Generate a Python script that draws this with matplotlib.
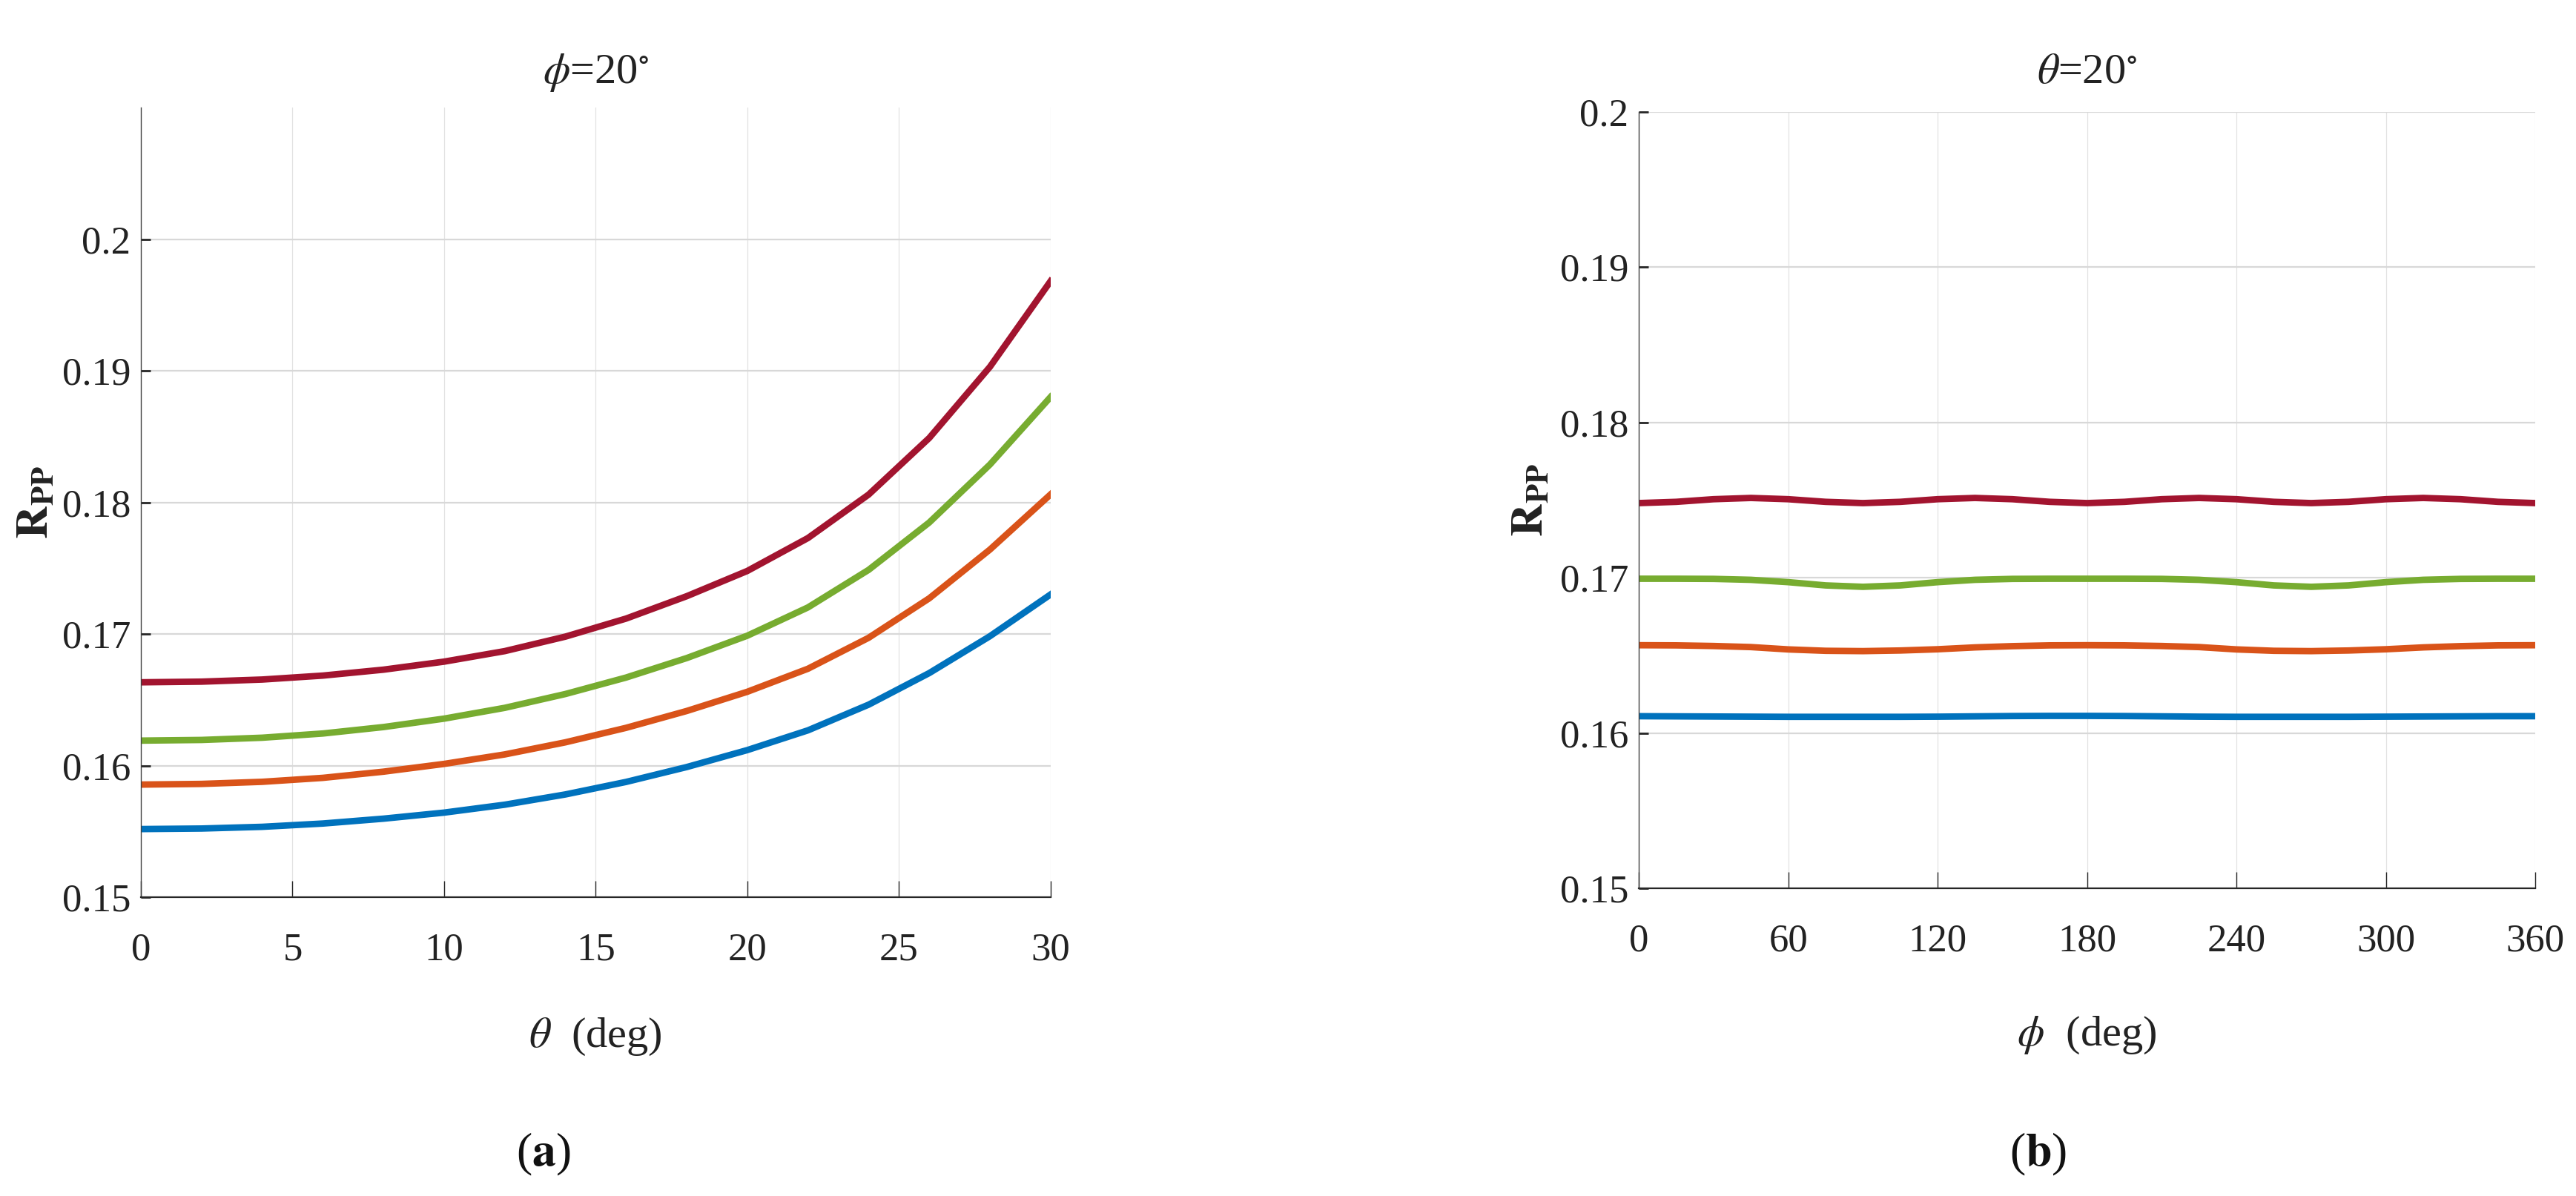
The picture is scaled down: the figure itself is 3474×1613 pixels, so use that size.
import matplotlib
matplotlib.use("Agg")
import matplotlib.pyplot as plt

plt.rcParams["font.family"] = ["Liberation Serif", "DejaVu Serif"]
plt.rcParams["mathtext.fontset"] = "stix"

# panel (a): R_PP against incidence angle theta, phi = 20 deg
theta_deg = [0, 2, 4, 6, 8, 10, 12, 14, 16, 18, 20, 22, 24, 26, 28, 30]
rpp_theta_blue = [0.15518, 0.15522, 0.15535, 0.15560, 0.15597, 0.15643, 0.15703, 0.15781,
                  0.15876, 0.15989, 0.16118, 0.16268, 0.16463, 0.16703, 0.16983, 0.17300]
rpp_theta_orange = [0.15856, 0.15861, 0.15877, 0.15907, 0.15954, 0.16013, 0.16085, 0.16177,
                    0.16287, 0.16415, 0.16561, 0.16736, 0.16971, 0.17271, 0.17641, 0.18060]
rpp_theta_green = [0.16190, 0.16195, 0.16212, 0.16244, 0.16293, 0.16357, 0.16439, 0.16544,
                   0.16669, 0.16817, 0.16987, 0.17202, 0.17487, 0.17847, 0.18287, 0.18800]
rpp_theta_red = [0.16633, 0.16638, 0.16654, 0.16684, 0.16729, 0.16790, 0.16870, 0.16980,
                 0.17117, 0.17287, 0.17479, 0.17729, 0.18059, 0.18489, 0.19029, 0.19680]

# panel (b): R_PP against azimuth phi, theta = 20 deg
phi_deg = [0, 15, 30, 45, 60, 75, 90, 105, 120, 135, 150, 165, 180,
           195, 210, 225, 240, 255, 270, 285, 300, 315, 330, 345, 360]
rpp_phi_blue = [0.16110, 0.16109, 0.16108, 0.16107, 0.16106, 0.16106, 0.16106,
                0.16106, 0.16107, 0.16109, 0.16111, 0.16112, 0.16112, 0.16111,
                0.16109, 0.16107, 0.16106, 0.16106, 0.16106, 0.16106, 0.16107,
                0.16108, 0.16109, 0.16110, 0.16110]
rpp_phi_orange = [0.16567, 0.16566, 0.16562, 0.16555, 0.16540, 0.16531, 0.16529,
                  0.16533, 0.16541, 0.16553, 0.16561, 0.16566, 0.16567, 0.16566,
                  0.16562, 0.16555, 0.16540, 0.16531, 0.16529, 0.16533, 0.16541,
                  0.16553, 0.16561, 0.16566, 0.16567]
rpp_phi_green = [0.16995, 0.16995, 0.16994, 0.16988, 0.16973, 0.16952, 0.16943,
                 0.16952, 0.16973, 0.16988, 0.16994, 0.16995, 0.16995, 0.16995,
                 0.16994, 0.16988, 0.16973, 0.16952, 0.16943, 0.16952, 0.16973,
                 0.16988, 0.16994, 0.16995, 0.16995]
rpp_phi_red = [0.17482, 0.17490, 0.17507, 0.17515, 0.17507, 0.17490, 0.17482,
               0.17490, 0.17507, 0.17515, 0.17507, 0.17490, 0.17482, 0.17490,
               0.17507, 0.17515, 0.17507, 0.17490, 0.17482, 0.17490, 0.17507,
               0.17515, 0.17507, 0.17490, 0.17482]

y_ticks = [0.15, 0.16, 0.17, 0.18, 0.19, 0.2]
y_tick_labels = ["0.15", "0.16", "0.17", "0.18", "0.19", "0.2"]
theta_ticks = [0, 5, 10, 15, 20, 25, 30]
phi_ticks = [0, 60, 120, 180, 240, 300, 360]

# MATLAB default line colours
series_colors = ["#0072BD", "#D95319", "#77AC30", "#A2142F"]


def style_axes(ax, xticks, ylim):
    ax.set_xlim(xticks[0], xticks[-1])
    ax.set_ylim(*ylim)
    ax.set_xticks(xticks)
    ax.set_xticklabels([str(t) for t in xticks])
    ax.set_yticks(y_ticks)
    ax.set_yticklabels(y_tick_labels)

    ax.set_axisbelow(True)
    ax.xaxis.grid(True, color="#e2e2e2", linewidth=0.9)
    ax.yaxis.grid(True, color="#d8d8d8", linewidth=1.6)

    for side in ("top", "right"):
        ax.spines[side].set_visible(False)
    ax.spines["left"].set_color("#404040")
    ax.spines["left"].set_linewidth(1.0)
    ax.spines["bottom"].set_color("#262626")
    ax.spines["bottom"].set_linewidth(1.6)

    ax.tick_params(axis="x", direction="in", length=16, width=1.0,
                   color="#262626", labelsize=38, pad=34, labelcolor="#222222")
    ax.tick_params(axis="y", direction="in", length=9, width=2.0,
                   color="#262626", labelsize=38, pad=10, labelcolor="#222222")


fig = plt.figure(figsize=(34.74, 16.13), dpi=100)
ax_a = fig.add_axes([0.0547, 0.2498, 0.3531, 0.6603])
ax_b = fig.add_axes([0.6362, 0.2570, 0.3480, 0.6494])

for values, color in zip([rpp_theta_blue, rpp_theta_orange, rpp_theta_green, rpp_theta_red],
                         series_colors):
    ax_a.plot(theta_deg, values, color=color, linewidth=6.3, solid_joinstyle="round")

for values, color in zip([rpp_phi_blue, rpp_phi_orange, rpp_phi_green, rpp_phi_red],
                         series_colors):
    ax_b.plot(phi_deg, values, color=color, linewidth=6.3, solid_joinstyle="round")

style_axes(ax_a, theta_ticks, (0.15, 0.21))
style_axes(ax_b, phi_ticks, (0.15, 0.2))

ax_a.set_title(r"$\phi$=20$^{\circ}$", fontsize=42, pad=24, color="#222222")
ax_b.set_title(r"$\theta$=20$^{\circ}$", fontsize=42, pad=28, color="#222222")

ax_a.set_xlabel(r"$\theta$  (deg)", fontsize=42, color="#222222", va="center")
ax_a.xaxis.set_label_coords(0.5, -0.1765)
ax_b.set_xlabel(r"$\phi$  (deg)", fontsize=42, color="#222222", va="center")
ax_b.xaxis.set_label_coords(0.5, -0.1885)

ylabel = r"$\mathbf{R}_{\mathbf{PP}}$"
ax_a.set_ylabel(ylabel, fontsize=44, color="#222222", va="center")
ax_a.yaxis.set_label_coords(-0.114, 0.50)
ax_b.set_ylabel(ylabel, fontsize=44, color="#222222", va="center")
ax_b.yaxis.set_label_coords(-0.119, 0.50)

fig.text(733 / 3474, 1 - 1557 / 1613, r"($\mathbf{a}$)", fontsize=46,
         ha="center", va="center", color="#111111")
fig.text(2749 / 3474, 1 - 1557 / 1613, r"($\mathbf{b}$)", fontsize=46,
         ha="center", va="center", color="#111111")

fig.savefig("out.png", dpi=100, facecolor="white")
